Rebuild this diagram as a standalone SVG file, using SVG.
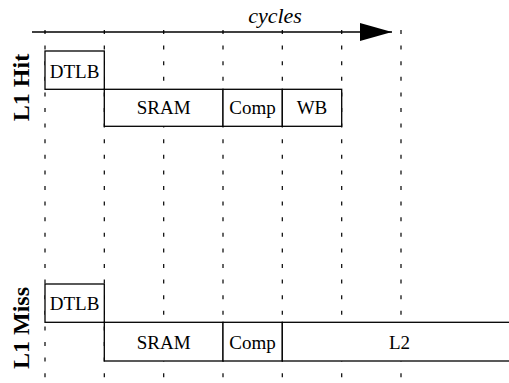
<svg xmlns="http://www.w3.org/2000/svg" width="509" height="383" viewBox="0 0 509 383">
  <style>
    .grid { stroke: #000; stroke-width: 1.2; stroke-dasharray: 4 11.6; fill: none; }
    .axis { stroke: #000; stroke-width: 1.3; fill: none; }
    .box { fill: #fff; stroke: #000; stroke-width: 1.3; }
    .lbl { font-family: "Liberation Serif", "Times New Roman", serif; font-size: 19px; fill: #000; text-anchor: middle; }
    .row { font-family: "Liberation Serif", "Times New Roman", serif; font-size: 24px; font-weight: bold; fill: #000; text-anchor: middle; }
    .ttl { font-family: "Liberation Serif", "Times New Roman", serif; font-size: 22px; font-style: italic; fill: #000; text-anchor: middle; }
  </style>
  <defs>
    <marker id="arrow" markerUnits="userSpaceOnUse" markerWidth="32" markerHeight="18" refX="32" refY="9" orient="auto">
      <path d="M0,0 L32,9 L0,18 Z" fill="#000"/>
    </marker>
  </defs>
  <rect width="509" height="383" fill="#fff"/>

  <!-- cycle boundaries and time axis -->
  <g id="connectors">
    <line class="grid" x1="45" y1="30" x2="45" y2="383"/>
    <line class="grid" x1="104.3" y1="30" x2="104.3" y2="383"/>
    <line class="grid" x1="163.7" y1="30" x2="163.7" y2="383"/>
    <line class="grid" x1="223" y1="30" x2="223" y2="383"/>
    <line class="grid" x1="282.3" y1="30" x2="282.3" y2="383"/>
    <line class="grid" x1="341.7" y1="30" x2="341.7" y2="383"/>
    <line class="grid" x1="401" y1="30" x2="401" y2="383"/>
    <line class="axis" x1="32" y1="32" x2="392" y2="32" marker-end="url(#arrow)"/>
  </g>
  <text class="ttl" x="275" y="23">cycles</text>

  <!-- L1 hit pipeline -->
  <text class="row" transform="translate(29,87.5) rotate(-90)">L1 Hit</text>
  <g id="hit-dtlb">
    <rect class="box" x="45" y="51" width="59.3" height="38.3"/>
    <text class="lbl" x="74.6" y="77.5">DTLB</text>
  </g>
  <g id="hit-sram">
    <rect class="box" x="104.3" y="89.3" width="118.7" height="37"/>
    <text class="lbl" x="163.7" y="114">SRAM</text>
  </g>
  <g id="hit-comp">
    <rect class="box" x="223" y="89.3" width="59.3" height="37"/>
    <text class="lbl" x="252.6" y="114">Comp</text>
  </g>
  <g id="hit-wb">
    <rect class="box" x="282.3" y="89.3" width="59.4" height="37"/>
    <text class="lbl" x="312" y="114">WB</text>
  </g>

  <!-- L1 miss pipeline -->
  <text class="row" transform="translate(29,328) rotate(-90)">L1 Miss</text>
  <g id="miss-dtlb">
    <rect class="box" x="45" y="284" width="59.3" height="38.3"/>
    <text class="lbl" x="74.6" y="310">DTLB</text>
  </g>
  <g id="miss-sram">
    <rect class="box" x="104.3" y="322.3" width="118.7" height="38.7"/>
    <text class="lbl" x="163.7" y="349">SRAM</text>
  </g>
  <g id="miss-comp">
    <rect class="box" x="223" y="322.3" width="59.3" height="38.7"/>
    <text class="lbl" x="252.6" y="349">Comp</text>
  </g>
  <g id="miss-l2">
    <rect class="box" x="282.3" y="322.3" width="234" height="38.7"/>
    <text class="lbl" x="399.5" y="349">L2</text>
  </g>
</svg>
